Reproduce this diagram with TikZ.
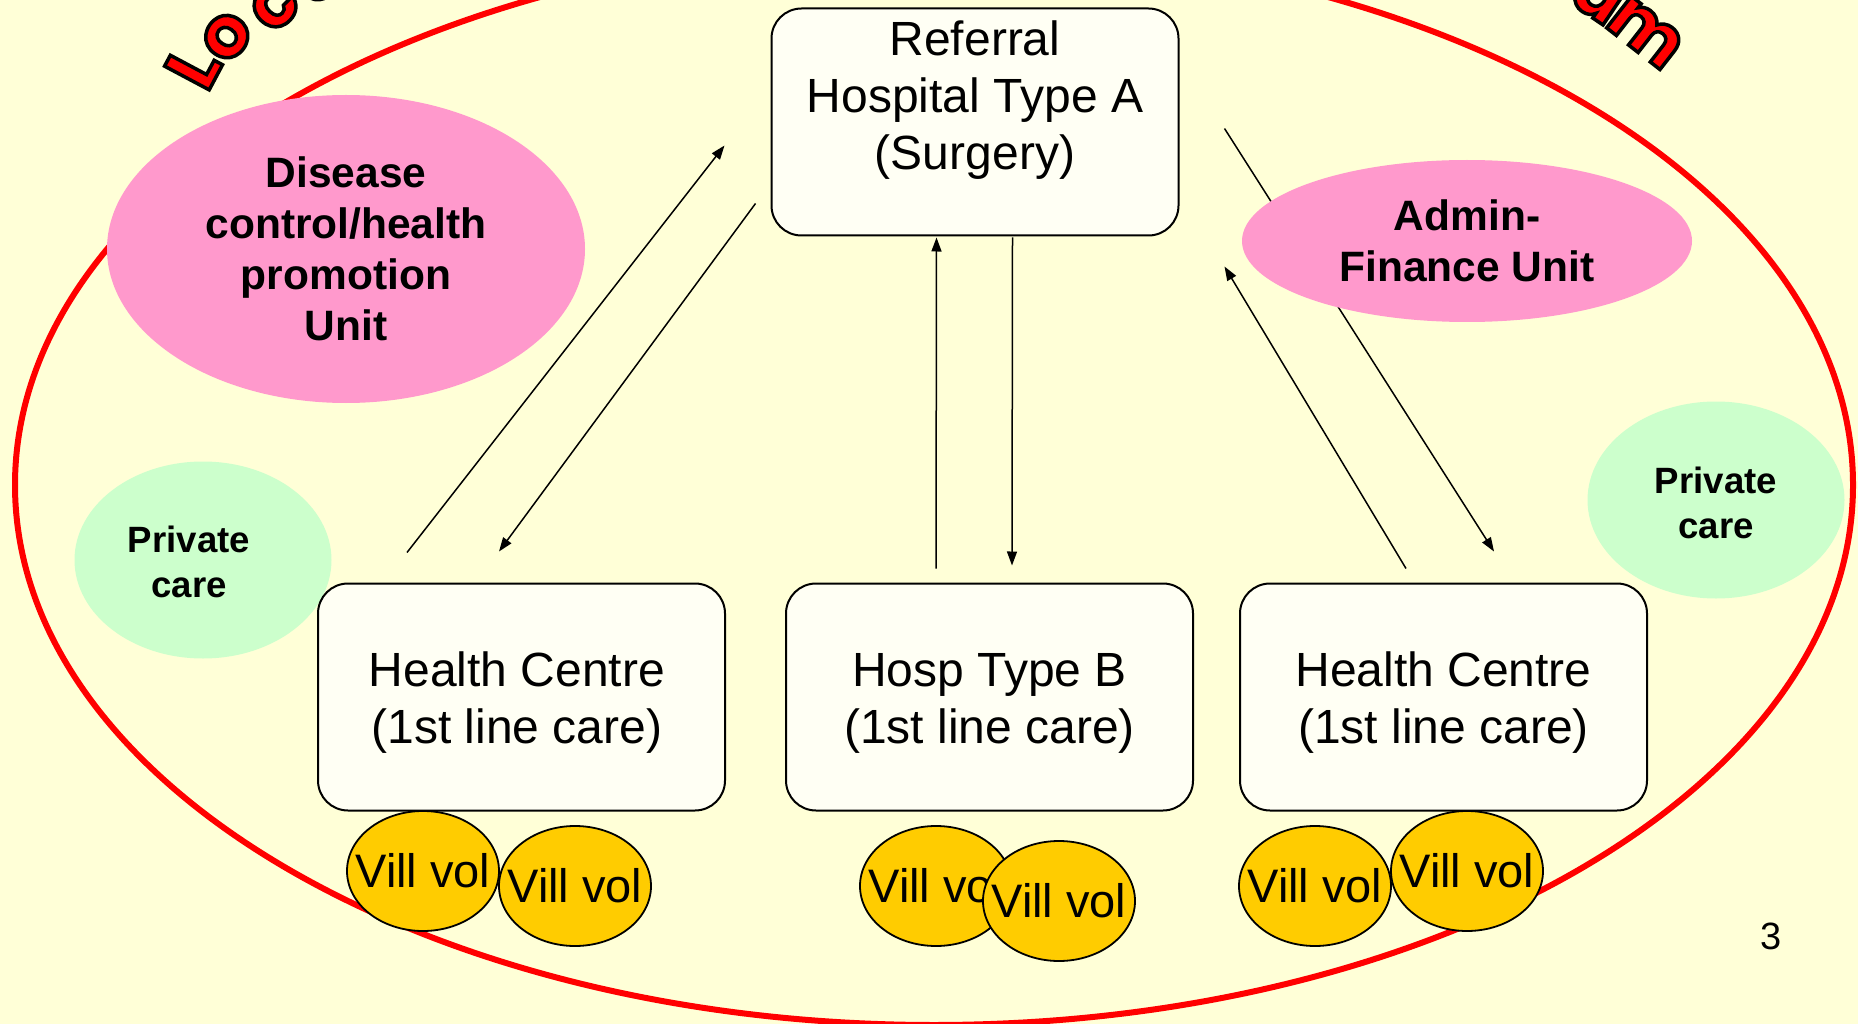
\documentclass[tikz,border=0pt]{standalone}
\usepackage{fontspec}
\setmainfont{Liberation Sans}
\newfontfamily\titlefont{Poppins}
\usetikzlibrary{shapes.geometric,arrows.meta,calc}

\definecolor{bgyellow}{RGB}{255,255,215}
\definecolor{boxfill}{RGB}{255,255,244}
\definecolor{unitpink}{RGB}{255,153,204}
\definecolor{privgreen}{RGB}{204,255,204}
\definecolor{volgold}{RGB}{255,204,0}

% red letters with a black stroked outline
\newcommand{\outlinedletter}[1]{\special{pdf:literal direct 0 0 0 RG 2 Tr 3.5 w}#1\special{pdf:literal direct 0 Tr}}

\tikzset{
  titleletter/.style={font={\titlefont\bfseries\fontsize{72}{72}\selectfont}, text=red, inner sep=0pt, anchor=base west},
  carebox/.style={draw=black, line width=2pt, fill=boxfill, rounded corners=30pt,
    minimum width=407pt, minimum height=227pt, inner sep=0pt},
  boxtext/.style={align=center, inner sep=0pt, font={\fontsize{48}{57}\selectfont}},
  unitblob/.style={ellipse, fill=unitpink, inner sep=0pt, align=center,
    font={\bfseries\fontsize{42.5}{51}\selectfont}},
  privblob/.style={ellipse, fill=privgreen, inner sep=0pt, minimum width=257pt, minimum height=197pt},
  privtext/.style={align=center, inner sep=0pt, font={\bfseries\fontsize{36.6}{45}\selectfont}},
  volunteer/.style={ellipse, draw=black, line width=1.8pt, fill=volgold, inner sep=0pt,
    minimum width=152pt, minimum height=120pt, font={\fontsize{47}{50}\selectfont}},
  flow/.style={line width=1.5pt, -{Triangle[length=14pt,width=10pt]}},
}
% the label is allowed to fill the oval without widening it
\newcommand{\vol}{\makebox[0pt]{Vill vol}}

\begin{document}
\begin{tikzpicture}[x=1pt, y=-1pt]
  \useasboundingbox (0,0) rectangle (1858,1024);
  \clip (0,0) rectangle (1858,1024);
  \fill[bgyellow] (0,0) rectangle (1858,1024);

  % district boundary
  \draw[red, line width=6pt] (934,485) ellipse [x radius=919, y radius=540];

  % curved heading along the boundary
  \node[titleletter, rotate=62] (hL) at (207,94) {\outlinedletter{L}};
  \node[titleletter, rotate=55] (hO) at (230,67) {\outlinedletter{o}};
  \node[titleletter, rotate=46] (hC) at (274,36) {\outlinedletter{c}};
  \node[titleletter, rotate=38] (hA) at (312,8) {\outlinedletter{a}};
  \node[titleletter, rotate=-30] (hE) at (1527,-22) {\outlinedletter{e}};
  \node[titleletter, rotate=-34] (hA2) at (1566,0) {\outlinedletter{a}};
  \node[titleletter, rotate=-38] (hM) at (1603,25) {\outlinedletter{m}};

  % private care
  \node[privblob] (privL) at (203,560) {};
  \node[privtext] (privLt) at (189,562) {Private\\care};
  \node[privblob] (privR) at (1716,500) {};
  \node[privtext] (privRt) at (1716,503) {Private\\care};

  % facilities
  \node[carebox] (refA) at (975,122) {};
  \node[boxtext] (refAt) at (975,100) {Referral\\Hospital Type A\\(Surgery)};
  \node[carebox] (hc1) at (521.5,697) {};
  \node[boxtext] (hc1t) at (517,703) {Health Centre\\(1st line care)};
  \node[carebox] (hospB) at (989.5,697) {};
  \node[boxtext] (hospBt) at (989.5,703) {Hosp Type B\\(1st line care)};
  \node[carebox] (hc2) at (1443.5,697) {};
  \node[boxtext] (hc2t) at (1443.5,703) {Health Centre\\(1st line care)};

  % referrals and counter-referrals
  \draw[flow] ($(hc1.north west)+(90,-30)$) -- ($(refA.north west)+(-46,138)$);
  \draw[flow] ($(refA.north west)+(-15,196)$) -- ($(hc1.north west)+(182,-31)$);
  \draw[flow] ($(hospB.north west)+(151,-14)$) -- ($(refA.south west)+(166,1)$);
  \draw[flow] ($(refA.south west)+(242,1)$) -- ($(hospB.north west)+(227,-17)$);
  \draw[flow] ($(hc2.north west)+(167,-14)$) -- ($(refA.north east)+(45,259)$);
  \draw[flow] ($(refA.north east)+(45,121)$) -- ($(hc2.north west)+(255,-31)$);

  % support units
  \node[unitblob, minimum width=478pt, minimum height=308pt] (disease) at (346,249)
    {Disease\\control/health\\promotion\\Unit};
  \node[unitblob, minimum width=450pt, minimum height=162pt] (admin) at (1467,241)
    {Admin-\\Finance Unit};

  % village volunteers
  \node[volunteer] (v1) at (423,871) {\vol};
  \node[volunteer] (v2) at (575,886) {\vol};
  \node[volunteer] (v3) at (936,886) {\vol};
  \node[volunteer] (v4) at (1059,901) {\vol};
  \node[volunteer] (v5) at (1315,886) {\vol};
  \node[volunteer] (v6) at (1467,871) {\vol};

  % slide number
  \node[inner sep=0pt, font={\fontsize{38}{40}\selectfont}] (pageno) at (1771,936) {3};
\end{tikzpicture}
\end{document}
